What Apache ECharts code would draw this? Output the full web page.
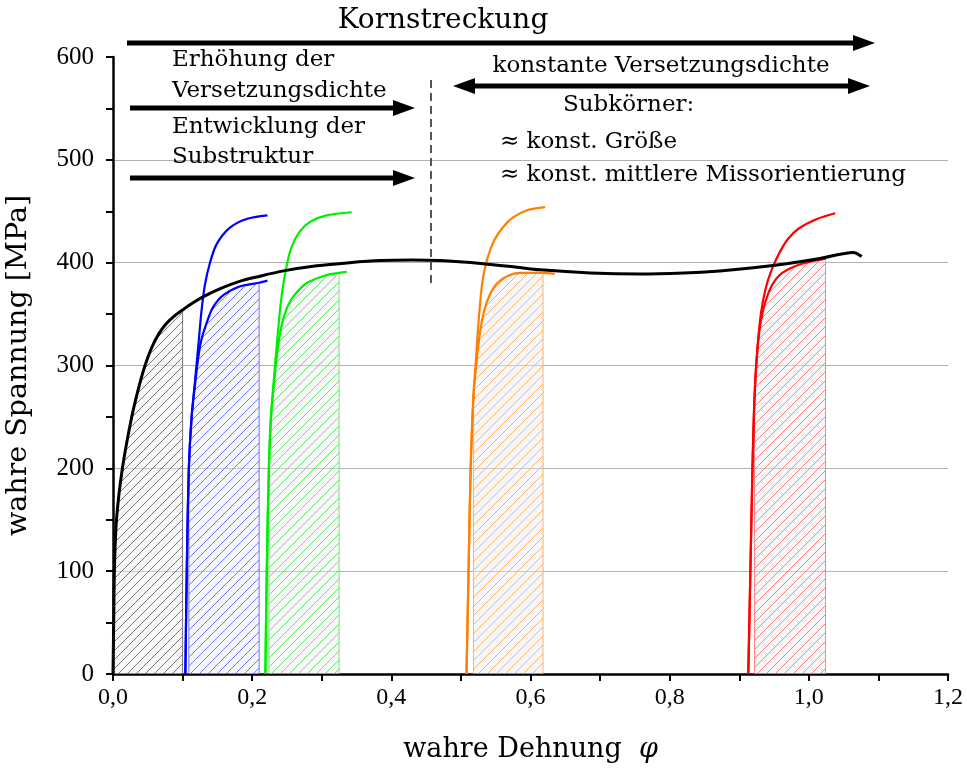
<!DOCTYPE html>
<html><head><meta charset="utf-8">
<script src="https://cdn.jsdelivr.net/npm/echarts@6/dist/echarts.min.js"></script>
<style>html,body{margin:0;padding:0;background:#fff}#c{width:967px;height:775px}</style>
</head><body><div id="c"></div>
<script>
// ---- data (strain φ, true stress MPa) ----
const blackCurve = [[0,0],[0.001,50],[0.002,100],[0.005,150],[0.0135,200],[0.026,247],[0.036,276],[0.046,300],[0.056,318],[0.066,331],[0.077,341],[0.088,348],[0.1,354],[0.115,361],[0.13,367],[0.155,375],[0.183,382],[0.206,386],[0.245,392],[0.293,397],[0.34,400],[0.384,402],[0.43,402.5],[0.47,402],[0.532,399],[0.575,396],[0.614,393],[0.686,390],[0.757,389],[0.82,390],[0.872,392],[0.92,395],[0.968,399],[1.016,404],[1.064,410],[1.076,406]];
const blueLower  = [[0.104,0],[0.106,100],[0.109,200],[0.113,250],[0.118,282],[0.122,305],[0.127,325],[0.137,346],[0.144,357],[0.159,368.6],[0.183,377],[0.21,380.5],[0.222,382.5]];
const blueUpper  = [[0.104,0],[0.106,100],[0.109,200],[0.113,250],[0.118,286],[0.123,322],[0.127,352],[0.132,378],[0.139,399],[0.149,418],[0.168,434],[0.192,442.5],[0.222,446]];
const greenLower = [[0.219,0],[0.221,100],[0.224,200],[0.227,250],[0.231,280],[0.236,312],[0.242,338],[0.25,356],[0.259,367],[0.278,380],[0.307,388],[0.325,390],[0.336,391]];
const greenUpper = [[0.219,0],[0.221,100],[0.224,200],[0.227,250],[0.231,285],[0.236,325],[0.241,360],[0.247,388],[0.256,414],[0.268,430],[0.284,440],[0.307,446],[0.343,449]];
const orangeLower= [[0.508,0],[0.511,100],[0.514,200],[0.518,270],[0.522,300],[0.527,330],[0.533,352],[0.541,368],[0.552,380],[0.567,387],[0.585,390],[0.618,390],[0.635,389]];
const orangeUpper= [[0.508,0],[0.511,100],[0.514,200],[0.518,270],[0.522,310],[0.526,348],[0.531,382],[0.538,404],[0.548,422],[0.561,435],[0.575,444],[0.595,451],[0.621,454]];
const redLower   = [[0.913,0],[0.916,100],[0.919,200],[0.922,270],[0.926,315],[0.931,343],[0.938,363],[0.947,378],[0.958,388],[0.972,394],[0.99,399],[1.024,404]];
const redUpper   = [[0.913,0],[0.916,100],[0.919,200],[0.922,270],[0.926,315],[0.931,350],[0.938,375],[0.946,392],[0.958,410],[0.97,423],[0.985,433],[1.01,442],[1.038,448]];
// hatched ranges [start, end] of strain
const blackHatch = [0, 0.1];
const blueHatch = [0.109, 0.21];
const greenHatch = [0.224, 0.325];
const orangeHatch = [0.518, 0.618];
const redHatch = [0.922, 1.024];
const xRange = [0, 1.2, 0.2];
const yRange = [0, 600, 100];

function hatchData(curve, r){
  return [[r[0],0]].concat(curve.filter(p=>p[0]>=r[0] && p[0]<=r[1])).concat([[r[1],0]]);
}
function pattern(color){
  const s=9, c=document.createElement('canvas'); c.width=c.height=s;
  const g=c.getContext('2d');
  g.fillStyle='rgba(238,238,244,0.45)'; g.fillRect(0,0,s,s);
  g.strokeStyle=color; g.lineWidth=0.8; g.beginPath();
  g.moveTo(0,s); g.lineTo(s,0);
  g.moveTo(-2,2); g.lineTo(2,-2);
  g.moveTo(s-2,s+2); g.lineTo(s+2,s-2);
  g.stroke();
  return c;
}
function hatchSeries(curve, r, lineCol, patCol){
  return {type:'line', data:hatchData(curve,r), showSymbol:false, symbol:'none', z:2, smooth:0.3,
    lineStyle:{color:lineCol, width:1}, areaStyle:{color:{image:pattern(patCol), repeat:'repeat'}, opacity:1}};
}
function curveSeries(curve, col, w){
  return {type:'line', data:curve, showSymbol:false, symbol:'none', smooth:0.3, z:4,
    lineStyle:{color:col, width:w}};
}
function arrow(x1,x2,y,t,hl,hw,both){
  const pts=[];
  if(both){
    pts.push([x1,y],[x1+hl,y-hw],[x1+hl,y-t/2]);
  } else {
    pts.push([x1,y-t/2]);
  }
  pts.push([x2-hl,y-t/2],[x2-hl,y-hw],[x2,y],[x2-hl,y+hw],[x2-hl,y+t/2]);
  if(both){ pts.push([x1+hl,y+t/2],[x1+hl,y+hw]); } else { pts.push([x1,y+t/2]); }
  return {type:'polygon', shape:{points:pts}, style:{fill:'#000'}, z:10};
}
const SERIF='"DejaVu Serif", serif';
function txt(t,x,y,size,align){
  return {type:'text', z:10, style:{text:t, x:x, y:y, font:size+'px '+SERIF, fill:'#000',
    align:align||'left', textAlign:align||'left', verticalAlign:'middle', textVerticalAlign:'middle'}};
}

const chart = echarts.init(document.getElementById('c'));
const gridCol = '#b0b0b0';
chart.setOption({
  animation:false,
  backgroundColor:'#fff',
  grid:{left:113, right:19, top:57, bottom:101, containLabel:false, outerBoundsMode:'none'},
  xAxis:{type:'value', min:xRange[0], max:xRange[1], interval:xRange[2],
    axisLine:{show:true, onZero:false, lineStyle:{color:'#000', width:2.5}},
    axisTick:{show:true, length:7, lineStyle:{color:'#000', width:2}},
    minorTick:{show:true, splitNumber:2, length:7, lineStyle:{color:'#000', width:2}},
    splitLine:{show:false},
    axisLabel:{margin:12, color:'#000', fontSize:24, fontFamily:'"Liberation Serif", serif',
      formatter:v=>v.toFixed(1).replace('.',',')},
    name:'{a|wahre Dehnung  }{b|φ}', nameLocation:'middle', nameGap:62,
    nameTextStyle:{rich:{a:{fontSize:27, fontFamily:SERIF, color:'#000'}, b:{fontSize:27, fontFamily:SERIF, fontStyle:'italic', color:'#000'}}}
  },
  yAxis:{type:'value', min:yRange[0], max:yRange[1], interval:yRange[2],
    axisLine:{show:true, onZero:false, lineStyle:{color:'#000', width:2.5}},
    axisTick:{show:true, length:7, lineStyle:{color:'#000', width:2}},
    minorTick:{show:true, splitNumber:2, length:7, lineStyle:{color:'#000', width:2}},
    splitLine:{show:true, lineStyle:{color:[gridCol,gridCol,gridCol,gridCol,gridCol,gridCol,'rgba(0,0,0,0)'], width:1}},
    axisLabel:{margin:19, color:'#000', fontSize:25, fontFamily:'"Liberation Serif", serif'},
    name:'wahre Spannung [MPa]', nameLocation:'middle', nameGap:80,
    nameTextStyle:{fontSize:28.5, fontFamily:SERIF, color:'#000'}
  },
  series:[
    hatchSeries(blackCurve, blackHatch, '#777', '#555'),
    hatchSeries(blueLower, blueHatch, '#7070ff', '#5555ff'),
    hatchSeries(greenLower, greenHatch, '#66ee66', '#44dd44'),
    hatchSeries(orangeLower, orangeHatch, '#ffb066', '#ffa040'),
    hatchSeries(redLower, redHatch, '#ff8080', '#ff6060'),
    curveSeries(blueLower, '#0000ff', 2.2),
    curveSeries(blueUpper, '#0000ff', 2.2),
    curveSeries(greenLower, '#00ee00', 2.2),
    curveSeries(greenUpper, '#00ee00', 2.2),
    curveSeries(orangeLower, '#ff8000', 2.2),
    curveSeries(orangeUpper, '#ff8000', 2.2),
    curveSeries(redLower, '#ff0000', 2.2),
    curveSeries(redUpper, '#ff0000', 2.2),
    curveSeries(blackCurve, '#000', 3)
  ],
  graphic:[
    txt('Kornstreckung', 443, 21, 28, 'center'),
    arrow(127, 875, 43, 5, 22, 8, false),
    txt('Erhöhung der', 172, 60, 23),
    txt('Versetzungsdichte', 172, 91, 23),
    arrow(130, 415, 108, 5, 22, 8, false),
    txt('Entwicklung der', 172, 127, 23),
    txt('Substruktur', 172, 157, 23),
    arrow(130, 415, 178, 5, 22, 8, false),
    {type:'line', z:10, shape:{x1:431, y1:80, x2:431, y2:283}, style:{stroke:'#555', lineWidth:2, lineDash:[8,5]}},
    txt('konstante Versetzungsdichte', 661, 66, 23, 'center'),
    arrow(453, 870, 86, 5, 22, 8, true),
    txt('Subkörner:', 563, 105, 23),
    txt('≈ konst. Größe', 500, 142, 23),
    txt('≈ konst. mittlere Missorientierung', 500, 175, 23)
  ]
});
</script></body></html>
